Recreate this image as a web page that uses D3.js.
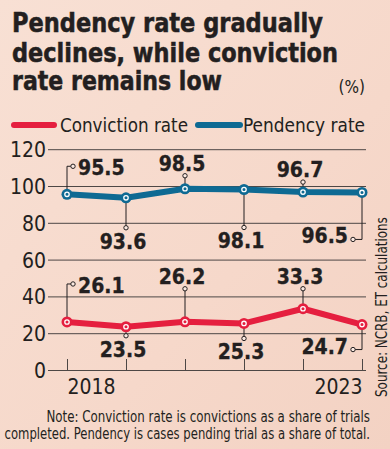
<!DOCTYPE html>
<html><head><meta charset="utf-8">
<script src="https://cdn.jsdelivr.net/npm/d3@7"></script>
<style>
html,body{margin:0;padding:0;background:#f6d9cb;}
svg{display:block;}
</style></head>
<body>
<script>
const years = [2018, 2019, 2020, 2021, 2022, 2023];
const convictionRate = [26.1, 23.5, 26.2, 25.3, 33.3, 24.7];
const pendencyRate = [95.5, 93.6, 98.5, 98.1, 96.7, 96.5];
const yTicks = [0, 20, 40, 60, 80, 100, 120];
const xTickLabels = ["2018", "", "", "", "", "2023"];
const titleLines = ["Pendency rate gradually", "declines, while conviction", "rate remains low"];
const seriesNames = ["Conviction rate", "Pendency rate"];
const noteLines = ["Note: Conviction rate is convictions as a share of trials", "completed. Pendency is cases pending trial as a share of total."];
const sourceText = "Source: NCRB, ET calculations";

// label layout (placement style, leader length in px)
const pendLayout = [["upRight",28],["down",30],["up",13],["down",38],["up",10],["downLeft",47]];
const convLayout = [["upRight",38],["down",9],["up",33],["down",15],["up",20],["downLeft",25]];

const W = 390, H = 449;
const RED = "#e51f3f", BLUE = "#0e6a93", INK = "#231f20", GRID = "#4d4745";
const condensed = "'DejaVu Sans Condensed','DejaVu Sans',sans-serif";

const svg = d3.select("body").append("svg").attr("width", W).attr("height", H);
const defs = svg.append("defs");
const bg = defs.append("linearGradient").attr("id","bg").attr("x1",0).attr("y1",0).attr("x2",1).attr("y2",1);
bg.append("stop").attr("offset","0%").attr("stop-color","#f8e0d4");
bg.append("stop").attr("offset","60%").attr("stop-color","#f6d8ca");
bg.append("stop").attr("offset","100%").attr("stop-color","#f3d2c3");
svg.append("rect").attr("width",W).attr("height",H).attr("fill","url(#bg)");

// Title
const titleBase = [32, 62, 90];
const titleLen = [311, 326, 210];
svg.append("g").selectAll("text").data(titleLines).join("text")
  .attr("x", 12).attr("y", (d,i)=>titleBase[i])
  .attr("font-family", condensed).attr("font-weight", "bold").attr("font-size", 26.5)
  .attr("fill", INK).attr("stroke", INK).attr("stroke-width", 0.5)
  .attr("textLength", (d,i)=>titleLen[i]).attr("lengthAdjust","spacingAndGlyphs")
  .text(d=>d);
svg.append("text").attr("x", 365).attr("y", 93).attr("text-anchor","end")
  .attr("font-family", condensed).attr("font-size", 17).attr("fill", INK).text("(%)");

// Legend
const legendItems = [
  {name: seriesNames[0], color: RED, x1: 14, x2: 54, tx: 60, tl: 128},
  {name: seriesNames[1], color: BLUE, x1: 198, x2: 240, tx: 243, tl: 122}
];
const lg = svg.append("g");
legendItems.forEach(it=>{
  lg.append("line").attr("x1", it.x1).attr("x2", it.x2).attr("y1",125).attr("y2",125)
    .attr("stroke", it.color).attr("stroke-width", 6).attr("stroke-linecap","round");
  lg.append("text").attr("x", it.tx).attr("y", 132).attr("font-family", condensed)
    .attr("font-size", 20).attr("fill", INK)
    .attr("textLength", it.tl).attr("lengthAdjust","spacingAndGlyphs").text(it.name);
});

// Scales
const x = d3.scalePoint().domain(years).range([67, 362]);
const y = d3.scaleLinear().domain([0, 120]).range([370, 149.2]);

// Y grid + labels
const yAxis = d3.axisLeft(y).tickValues(yTicks).tickSize(318).tickPadding(2).tickFormat(d3.format("d"));
const gy = svg.append("g").attr("transform","translate(366,0)").call(yAxis);
gy.select(".domain").remove();
gy.selectAll(".tick line").attr("stroke", GRID).attr("stroke-width", 1);
gy.selectAll(".tick text").attr("font-family", condensed).attr("font-size", 21).attr("fill", INK)
  .attr("dy", "0.36em");

// X ticks
const xAxis = d3.axisBottom(x).tickSize(-11).tickFormat((d,i)=>xTickLabels[i]).tickPadding(8);
const gx = svg.append("g").attr("transform", `translate(0,${y(0)})`).call(xAxis);
gx.select(".domain").remove();
gx.selectAll(".tick line").attr("stroke", GRID).attr("stroke-width", 1);
gx.selectAll(".tick text").attr("font-family", condensed).attr("font-size", 21).attr("fill", INK)
  .attr("y", 24).attr("dy", 0)
  .attr("text-anchor", (d,i)=> i===0 ? "start" : "end");

// Lines
const line = d3.line().x((d,i)=>x(years[i])).y(d=>y(d)).curve(d3.curveLinear);
function drawSeries(vals, color, layout){
  const g = svg.append("g");
  vals.forEach((v,i)=>{
    const px = x(years[i]), py = y(v);
    const [type, len] = layout[i];
    let pts, cx, cy, lx, ly, anchor;
    if(type==="upRight"){
      cy = py - len; cx = px + 6;
      pts = [[px,py],[px,cy],[cx,cy]];
      lx = cx + 5; ly = cy + 9; anchor = "start";
    } else if(type==="up"){
      cy = py - len; cx = px;
      pts = [[px,py],[px,cy]];
      lx = px - 3; ly = cy - 5; anchor = "middle";
    } else if(type==="down"){
      cy = py + len; cx = px;
      pts = [[px,py],[px,cy]];
      lx = px - 3; ly = cy + 21; anchor = "middle";
    } else {
      cy = py + len; cx = px - 9;
      pts = [[px,py],[px,cy],[cx,cy]];
      lx = cx - 5; ly = cy + 4; anchor = "end";
    }
    g.append("path").attr("d", d3.line()(pts)).attr("fill","none")
      .attr("stroke", INK).attr("stroke-width", 1);
    g.append("circle").attr("cx", cx).attr("cy", cy).attr("r", 2.2)
      .attr("fill", "#fbe9e1").attr("stroke", INK).attr("stroke-width", 1);
    g.append("text").attr("x", lx).attr("y", ly).attr("text-anchor", anchor)
      .attr("font-family", condensed).attr("font-weight","bold").attr("font-size", 21)
      .attr("fill", INK).attr("stroke", INK).attr("stroke-width", 0.3).text(v.toFixed(1));
  });
  g.append("path").attr("d", line(vals)).attr("fill","none").attr("stroke", color)
    .attr("stroke-width", 6).attr("stroke-linejoin","round").attr("stroke-linecap","round");
  g.selectAll("circle.m").data(vals).join("circle").attr("class","m")
    .attr("cx",(d,i)=>x(years[i])).attr("cy", d=>y(d)).attr("r", 5.5).attr("fill", color);
  g.selectAll("circle.w").data(vals).join("circle").attr("class","w")
    .attr("cx",(d,i)=>x(years[i])).attr("cy", d=>y(d)).attr("r", 2.2)
    .attr("fill", "none").attr("stroke", "#ffffff").attr("stroke-width", 1.3);
}
drawSeries(pendencyRate, BLUE, pendLayout);
drawSeries(convictionRate, RED, convLayout);

// Note (scaled horizontally to fit, right-aligned at x=370)
const noteLen = [324, 366];
noteLines.forEach((t,i)=>{
  const g = svg.append("g");
  const txt = g.append("text").attr("x", 0).attr("y", 0).attr("text-anchor","end")
    .attr("font-family", condensed).attr("font-size", 15).attr("fill", INK).text(t);
  const natural = txt.node().getComputedTextLength();
  const s = noteLen[i] / natural;
  g.attr("transform", `translate(370,${422 + i*17}) scale(${s},1)`);
});

// Source
const src = svg.append("g");
const st = src.append("text").attr("font-family", condensed).attr("font-size", 15).attr("fill", INK).text(sourceText);
const sN = st.node().getComputedTextLength();
src.attr("transform", `translate(387,397) rotate(-90) scale(${180/sN},1)`);
</script>
</body></html>
